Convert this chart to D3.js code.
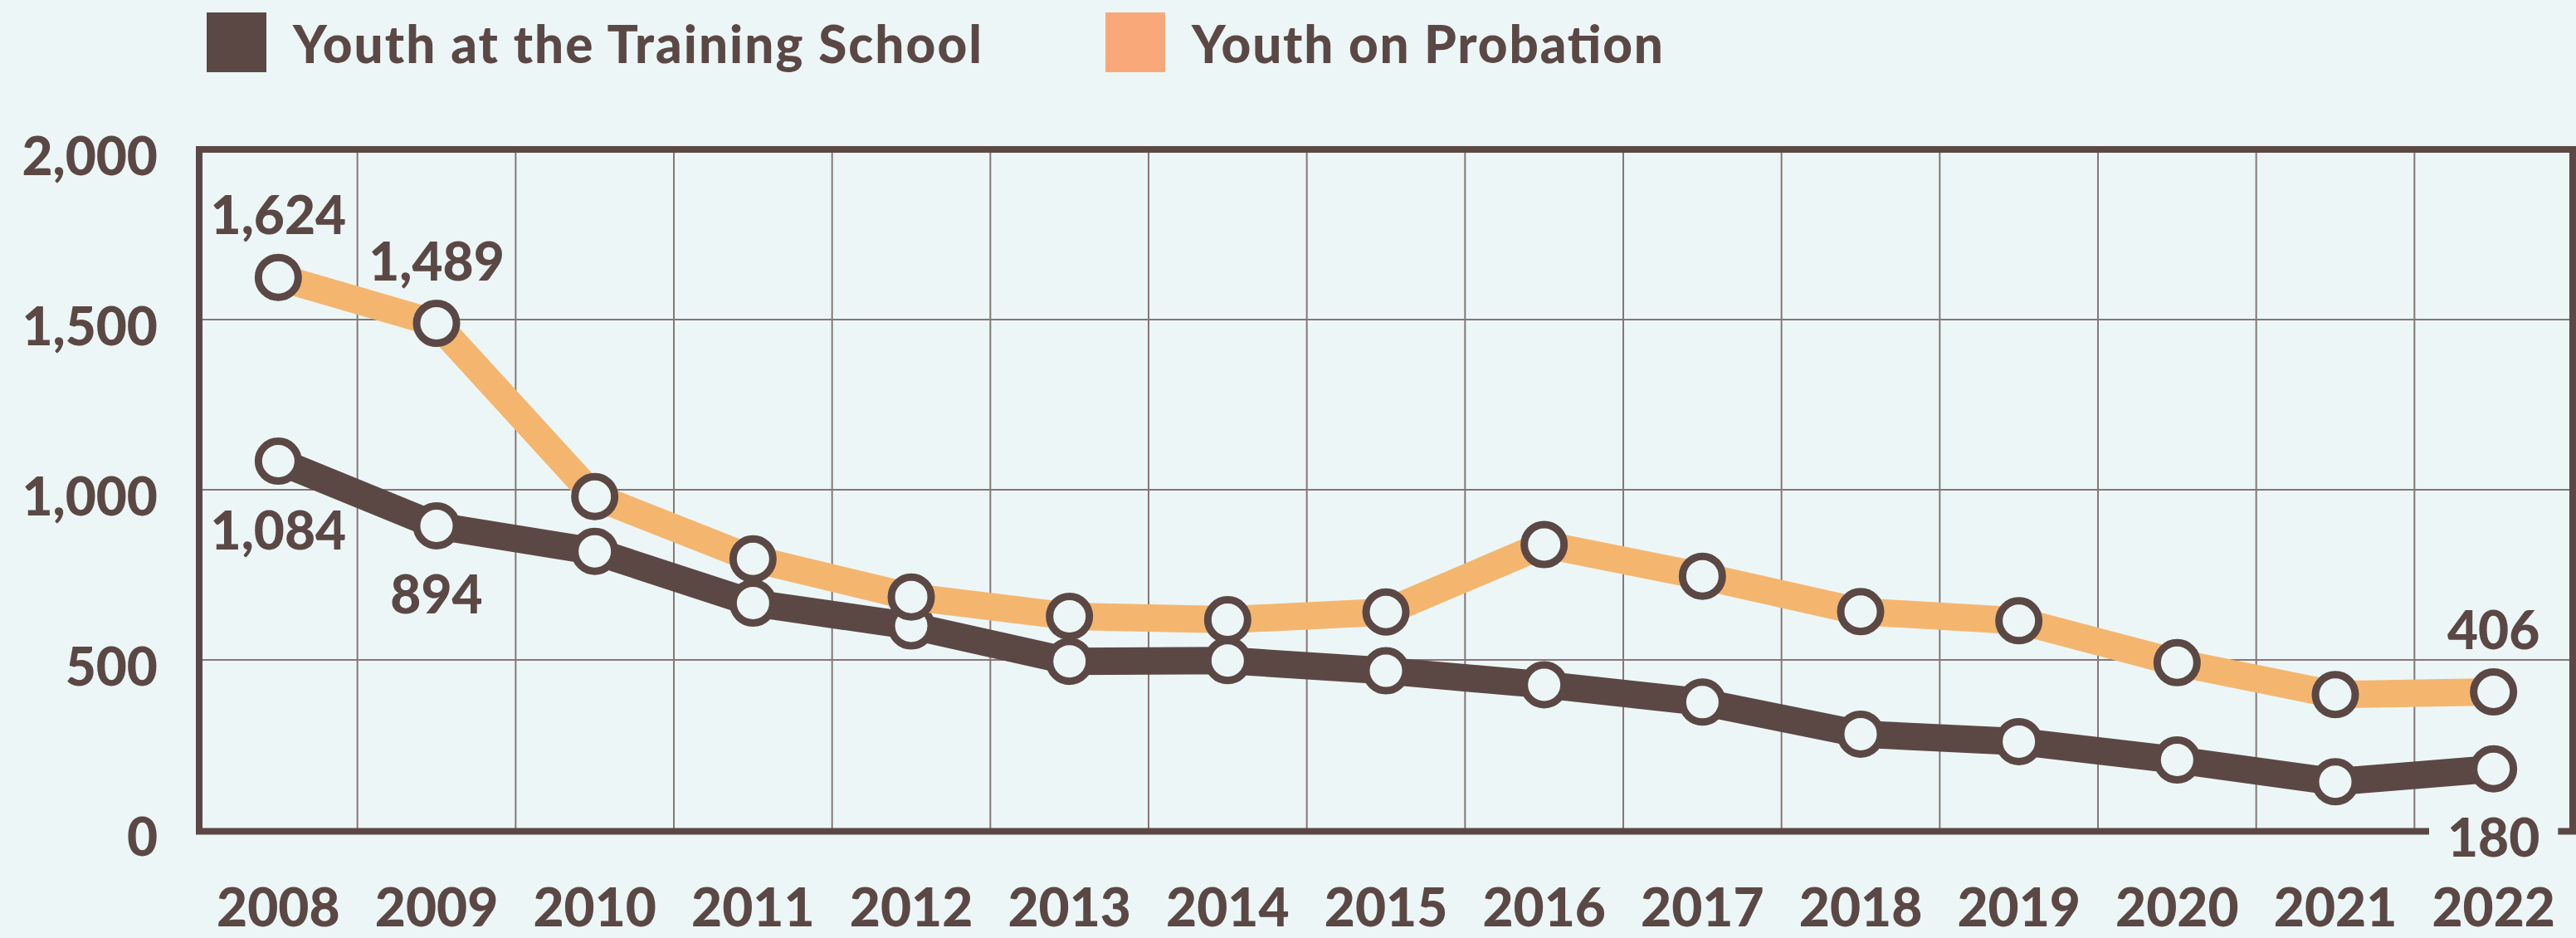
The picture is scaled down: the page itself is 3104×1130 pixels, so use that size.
<!DOCTYPE html>
<html>
<head>
<meta charset="utf-8">
<script src="https://cdn.jsdelivr.net/npm/d3@7"></script>
<style>
  html, body { margin: 0; padding: 0; background: #ecf6f7; }
  svg { display: block; }
  text { font-family: Lato, "Open Sans", sans-serif; font-weight: 900; fill: #5b4845; }
</style>
</head>
<body>
<svg id="chart" width="3104" height="1130"></svg>
<script>
// ---- data ----
const years = [2008, 2009, 2010, 2011, 2012, 2013, 2014, 2015, 2016, 2017, 2018, 2019, 2020, 2021, 2022];
const trainingSchool = [1084, 894, 819, 667, 600, 496, 498, 468, 427, 376, 282, 260, 206, 142, 180];
const probation = [1624, 1489, 980, 797, 685, 628, 618, 641, 839, 746, 642, 615, 492, 398, 406];
const yTicks = [0, 500, 1000, 1500, 2000];
const seriesNames = ["Youth at the Training School", "Youth on Probation"];
// labelled points: series index, year, placement
const labelled = [
  { s: 1, year: 2008, pos: "above" },
  { s: 1, year: 2009, pos: "above" },
  { s: 0, year: 2008, pos: "below" },
  { s: 0, year: 2009, pos: "below" },
  { s: 1, year: 2022, pos: "above" },
  { s: 0, year: 2022, pos: "below", knock: true }
];

// ---- styles / layout ----
const C = { bg: "#ecf6f7", dark: "#5b4845", orange: "#f4b66f", legendOrange: "#f9a87a", grid: "#857775" };
const L = { left: 240, right: 3100, top: 180, bottom: 1000 };
const FONT = "Lato, 'Open Sans', sans-serif";

const svg = d3.select("#chart");
svg.append("rect").attr("width", 3104).attr("height", 1130).attr("fill", C.bg);

const x = d3.scaleBand().domain(years).range([L.left, L.right]).padding(0);
const y = d3.scaleLinear().domain([0, 2000]).range([L.bottom, L.top]);
const cx = d => x(d) + x.bandwidth() / 2;

// gridlines
const g = svg.append("g");
g.selectAll("line.h").data(yTicks.filter(t => t > 0 && t < 2000)).join("line")
  .attr("x1", L.left).attr("x2", L.right)
  .attr("y1", d => y(d)).attr("y2", d => y(d))
  .attr("stroke", C.grid).attr("stroke-width", 2);
g.selectAll("line.v").data(years.slice(1)).join("line")
  .attr("x1", d => x(d)).attr("x2", d => x(d))
  .attr("y1", L.top).attr("y2", L.bottom)
  .attr("stroke", C.grid).attr("stroke-width", 2);

// frame
svg.append("rect")
  .attr("x", L.left).attr("y", y(2000)).attr("width", L.right - L.left).attr("height", y(0) - y(2000) + 1.5)
  .attr("fill", "none").attr("stroke", C.dark).attr("stroke-width", 8);

// y axis
const yAxis = svg.append("g").attr("transform", `translate(${L.left},0)`)
  .call(d3.axisLeft(y).tickValues(yTicks).tickSize(0).tickPadding(50).tickFormat(d3.format(",")));
yAxis.select(".domain").remove();
yAxis.selectAll("text").attr("dy", "0.47em").style("font-size", "64px")
  .style("font-family", FONT).style("font-weight", 900).attr("fill", C.dark);

// x axis
const xAxis = svg.append("g").attr("transform", `translate(0,${L.bottom})`)
  .call(d3.axisBottom(x).tickSize(0).tickFormat(d => String(d)));
xAxis.select(".domain").remove();
xAxis.selectAll("text").attr("y", 116).attr("dy", 0).style("font-size", "64px")
  .style("font-family", FONT).style("font-weight", 900).attr("fill", C.dark);

// lines & markers
const series = [
  { name: seriesNames[0], values: trainingSchool, color: C.dark },
  { name: seriesNames[1], values: probation, color: C.orange }
];
const line = d3.line().x((d, i) => cx(years[i])).y(d => y(d));
series.forEach(s => {
  svg.append("path").datum(s.values)
    .attr("d", line).attr("fill", "none").attr("stroke", s.color)
    .attr("stroke-width", 33).attr("stroke-linejoin", "round");
  svg.append("g").selectAll("circle").data(s.values).join("circle")
    .attr("cx", (d, i) => cx(years[i])).attr("cy", d => y(d))
    .attr("r", 24).attr("fill", C.bg).attr("stroke", C.dark).attr("stroke-width", 9);
});

// value labels
const fmt = d3.format(",");
const lab = svg.append("g");
labelled.forEach(l => {
  const v = series[l.s].values[years.indexOf(l.year)];
  const px = cx(l.year);
  const py = y(v) + (l.pos === "above" ? -52 : 106);
  const t = lab.append("text").attr("x", px).attr("y", py).attr("text-anchor", "middle")
    .style("font-size", "64px").text(fmt(v));
  if (l.knock) {
    const bb = t.node().getBBox();
    lab.insert("rect", "text").attr("x", bb.x - 22).attr("y", y(0) - 10)
      .attr("width", bb.width + 44).attr("height", 20).attr("fill", C.bg);
  }
});

// legend
const legend = [
  { name: seriesNames[0], color: C.dark, x: 249, len: 830 },
  { name: seriesNames[1], color: C.legendOrange, x: 1332, len: 568 }
];
const lg = svg.append("g");
legend.forEach(d => {
  lg.append("rect").attr("x", d.x).attr("y", 15).attr("width", 72).attr("height", 72).attr("fill", d.color);
  lg.append("text").attr("x", d.x + 104).attr("y", 76).style("font-size", "62px")
    .attr("textLength", d.len).attr("lengthAdjust", "spacing").text(d.name);
});
</script>
</body>
</html>
